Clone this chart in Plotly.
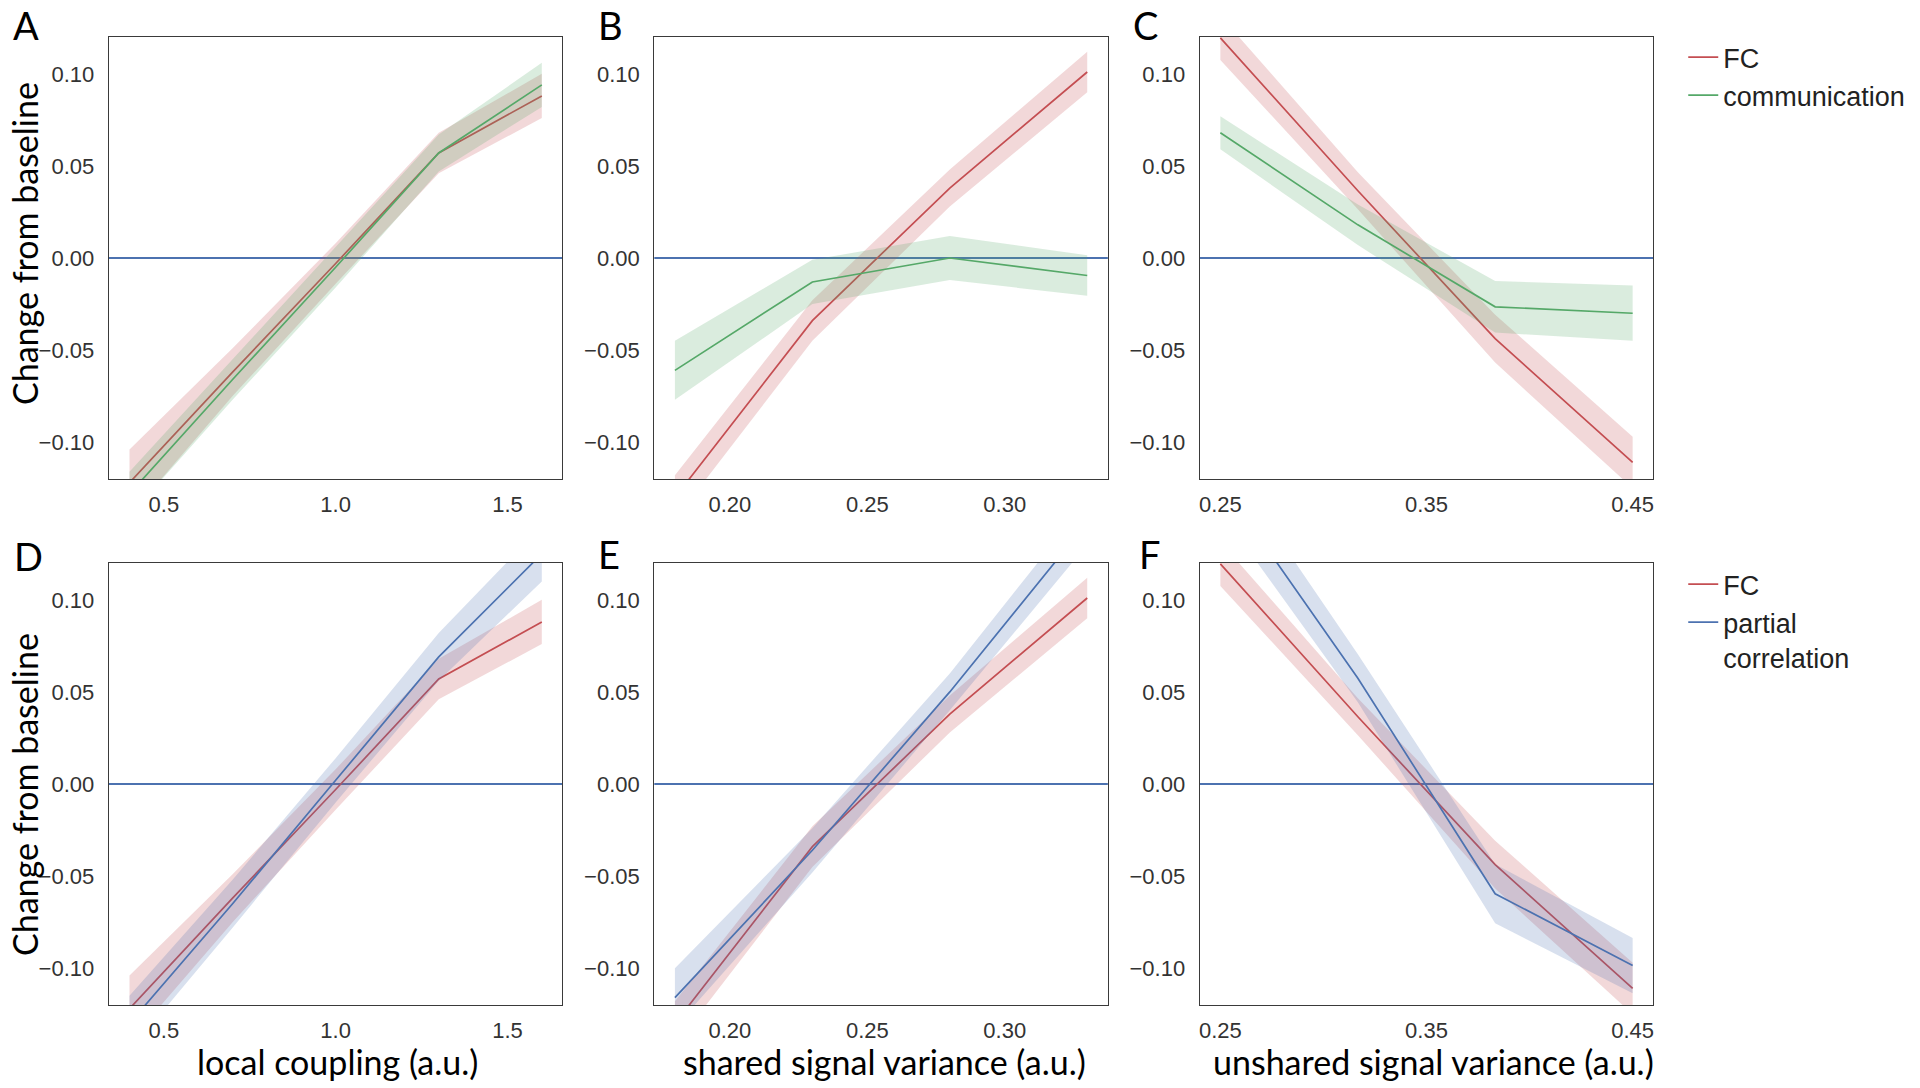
import plotly.graph_objects as go

# ---------------- data ----------------
x_coupling = [0.4, 0.7, 1.0, 1.3, 1.6]
x_shared = [0.18, 0.23, 0.28, 0.33]
x_unshared = [0.25, 0.3167, 0.3833, 0.45]

fc_coupling = [-0.122, -0.062, -0.003, 0.057, 0.088]
fc_coupling_ci = [0.018, 0.013, 0.011, 0.011, 0.012]
comm_coupling = [-0.128, -0.066, -0.005, 0.057, 0.094]
comm_coupling_ci = [0.012, 0.011, 0.011, 0.010, 0.012]
pc_coupling = [-0.130, -0.065, 0.002, 0.069, 0.125]
pc_coupling_ci = [0.015, 0.013, 0.012, 0.013, 0.015]

fc_shared = [-0.130, -0.034, 0.038, 0.101]
fc_shared_ci = [0.012, 0.011, 0.010, 0.011]
comm_shared = [-0.061, -0.013, 0.000, -0.0095]
comm_shared_ci = [0.016, 0.012, 0.012, 0.011]
pc_shared = [-0.116, -0.036, 0.050, 0.142]
pc_shared_ci = [0.016, 0.012, 0.010, 0.012]

fc_unshared = [0.1195, 0.0365, -0.0438, -0.111]
fc_unshared_ci = [0.012, 0.010, 0.013, 0.014]
comm_unshared = [0.068, 0.018, -0.0265, -0.030]
comm_unshared_ci = [0.009, 0.011, 0.014, 0.015]
pc_unshared = [0.164, 0.0574, -0.0596, -0.0986]
pc_unshared_ci = [0.016, 0.013, 0.016, 0.015]

BASELINE = 0.0
y_ticks = [-0.10, -0.05, 0.00, 0.05, 0.10]
y_ticktext = ["\u22120.10", "\u22120.05", "0.00", "0.05", "0.10"]
x_ticks_coupling = [0.5, 1.0, 1.5]
x_ticks_shared = [0.20, 0.25, 0.30]
x_ticks_unshared = [0.25, 0.35, 0.45]

# ---------------- style ----------------
W, H = 1920, 1088
RED = (196, 78, 82)
GREEN = (85, 168, 104)
BLUE = (76, 114, 176)


def rgb(c, a=None):
    if a is None:
        return "rgb(%d,%d,%d)" % c
    return "rgba(%d,%d,%d,%.2f)" % (c + (a,))


def px(x):
    return x / W


def py(y):
    return 1 - y / H


col_px = [(108, 562), (654, 1108), (1200, 1654)]
row_px = [(37, 479), (563, 1005)]

panels = [
    dict(row=0, col=0, x=x_coupling, xt=x_ticks_coupling, fmt="%.1f",
         series=[("FC", fc_coupling, fc_coupling_ci, RED), ("communication", comm_coupling, comm_coupling_ci, GREEN)]),
    dict(row=0, col=1, x=x_shared, xt=x_ticks_shared, fmt="%.2f",
         series=[("FC", fc_shared, fc_shared_ci, RED), ("communication", comm_shared, comm_shared_ci, GREEN)]),
    dict(row=0, col=2, x=x_unshared, xt=x_ticks_unshared, fmt="%.2f", legend="legend",
         series=[("FC", fc_unshared, fc_unshared_ci, RED), ("communication", comm_unshared, comm_unshared_ci, GREEN)]),
    dict(row=1, col=0, x=x_coupling, xt=x_ticks_coupling, fmt="%.1f",
         series=[("FC", fc_coupling, fc_coupling_ci, RED), ("partial<br>correlation", pc_coupling, pc_coupling_ci, BLUE)]),
    dict(row=1, col=1, x=x_shared, xt=x_ticks_shared, fmt="%.2f",
         series=[("FC", fc_shared, fc_shared_ci, RED), ("partial<br>correlation", pc_shared, pc_shared_ci, BLUE)]),
    dict(row=1, col=2, x=x_unshared, xt=x_ticks_unshared, fmt="%.2f", legend="legend2",
         series=[("FC", fc_unshared, fc_unshared_ci, RED), ("partial<br>correlation", pc_unshared, pc_unshared_ci, BLUE)]),
]

# top-row letters anchored at their top, bottom-row letters at their middle
letters_top = [("A", 25), ("B", 610), ("C", 1146)]
letters_bottom = [("D", 28, 556), ("E", 609, 554), ("F", 1150, 554)]

fig = go.Figure()
layout = {}
TICKFONT = dict(family="Liberation Sans, Arial, sans-serif", size=22, color="#333333")

for i, p in enumerate(panels):
    n = i + 1
    xa = "x" if n == 1 else "x%d" % n
    ya = "y" if n == 1 else "y%d" % n
    xs = p["x"]
    lo, hi = min(xs), max(xs)
    pad = (hi - lo) * 0.05
    leg = p.get("legend") or "legend"
    show = p.get("legend") is not None
    for name, m, ci, c in p["series"]:
        upper = [a + b for a, b in zip(m, ci)]
        lower = [a - b for a, b in zip(m, ci)]
        fig.add_trace(go.Scatter(x=xs, y=upper, mode="lines", line=dict(width=0, color=rgb(c, 0.2)),
                                 xaxis=xa, yaxis=ya, showlegend=False, hoverinfo="skip", legend=leg))
        fig.add_trace(go.Scatter(x=xs, y=lower, mode="lines", line=dict(width=0, color=rgb(c, 0.2)),
                                 fill="tonexty", fillcolor=rgb(c, 0.22),
                                 xaxis=xa, yaxis=ya, showlegend=False, hoverinfo="skip", legend=leg))
        fig.add_trace(go.Scatter(x=xs, y=m, mode="lines", line=dict(width=1.7, color=rgb(c)),
                                 name=name, xaxis=xa, yaxis=ya, showlegend=show, legend=leg))
    fig.add_shape(type="line", xref=xa + " domain", yref=ya, x0=0, x1=1, y0=BASELINE, y1=BASELINE,
                  line=dict(color=rgb(BLUE), width=1.8), layer="below")

    cl, cr = col_px[p["col"]]
    rt, rb = row_px[p["row"]]
    axis_common = dict(showline=True, mirror=True, linecolor="#3a3a3a", linewidth=1.4,
                       showgrid=False, zeroline=False, ticks="", tickfont=TICKFONT)
    layout["xaxis" if n == 1 else "xaxis%d" % n] = dict(
        domain=[px(cl), px(cr)], anchor=ya, range=[lo - pad, hi + pad],
        tickvals=p["xt"], ticktext=[p["fmt"] % v for v in p["xt"]],
        ticklabelstandoff=5, **axis_common)
    layout["yaxis" if n == 1 else "yaxis%d" % n] = dict(
        domain=[py(rb), py(rt)], anchor=xa, range=[-0.12, 0.12],
        tickvals=y_ticks, ticktext=y_ticktext, ticklabelstandoff=9, **axis_common)

LETTERFONT = dict(family="Lato, sans-serif", size=38, color="black")
annotations = []
for L, lx in letters_top:
    annotations.append(dict(text=L, x=px(lx), y=1.0, xref="paper", yref="paper",
                            xanchor="center", yanchor="top", showarrow=False, font=LETTERFONT))
for L, lx, ly in letters_bottom:
    annotations.append(dict(text=L, x=px(lx), y=py(ly), xref="paper", yref="paper",
                            xanchor="center", yanchor="middle", showarrow=False, font=LETTERFONT))

TITLEFONT = dict(family="Lato, sans-serif", size=34, color="black")
for txt, cx in [("local coupling (a.u.)", 337), ("shared signal variance (a.u.)", 884),
                ("unshared signal variance (a.u.)", 1434)]:
    annotations.append(dict(text=txt, x=px(cx), y=py(1061), xref="paper", yref="paper",
                            xanchor="center", yanchor="middle", showarrow=False, font=TITLEFONT))
for cy in [243, 794]:
    annotations.append(dict(text="Change from baseline", x=px(23), y=py(cy), xref="paper", yref="paper",
                            xanchor="center", yanchor="middle", showarrow=False, textangle=-90,
                            font=dict(family="Lato, sans-serif", size=34, color="black")))

LEGFONT = dict(family="Liberation Sans, Arial, sans-serif", size=27, color="#222222")
fig.update_layout(
    width=W, height=H, margin=dict(l=0, r=0, t=0, b=0),
    paper_bgcolor="white", plot_bgcolor="white",
    annotations=annotations,
    legend=dict(x=px(1684), y=py(33), xanchor="left", yanchor="top", font=LEGFONT,
                bgcolor="rgba(0,0,0,0)", tracegroupgap=0, valign="top", traceorder="normal"),
    legend2=dict(x=px(1684), y=py(560), xanchor="left", yanchor="top", font=LEGFONT,
                 bgcolor="rgba(0,0,0,0)", tracegroupgap=0, valign="top", traceorder="normal"),
    **layout,
)

fig.write_html("out.html", config={"displayModeBar": False},
               post_script="document.body.style.margin='0';")
